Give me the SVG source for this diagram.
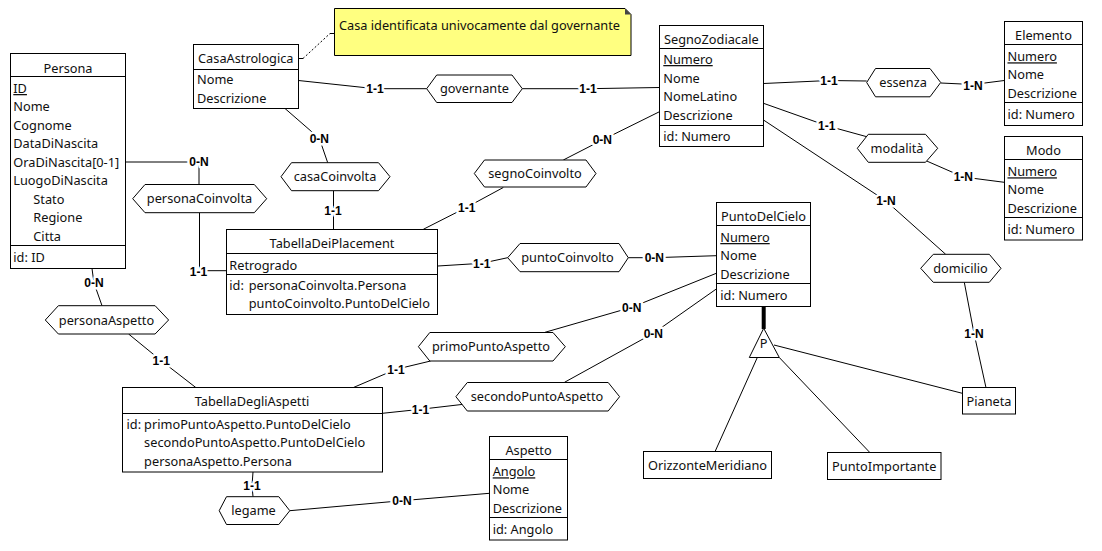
<svg xmlns="http://www.w3.org/2000/svg" width="1102" height="551" viewBox="0 0 1102 551">
<style>
.box{fill:#fff;stroke:#000;stroke-width:1}
.div{stroke:#000;stroke-width:1}
.hex{fill:#fff;stroke:#000;stroke-width:1}
.t{font-family:"Noto Sans","Open Sans",sans-serif;font-size:12.75px;fill:#101010}
.c{text-anchor:middle}
.u{text-decoration:underline}
.con{fill:none;stroke:#000;stroke-width:1}
.lbl{font-family:"Liberation Sans",Arial,sans-serif;font-size:12px;font-weight:bold;fill:#000;text-anchor:middle;stroke:#fff;stroke-width:5px;paint-order:stroke;stroke-linejoin:round}
</style>
<rect width="1102" height="551" fill="#fff"/>

<g id="connectors">
  <polyline class="con" points="298.5,80.5 375,88.7 426.7,88.7"/>
  <polyline class="con" points="522.3,88.7 588,88.7 659.5,87.5"/>
  <polyline class="con" points="298.5,58.5 303,58.5"/>
  <polyline class="con" points="303,58.5 330,33.5" stroke-dasharray="2,2"/>
  <polyline class="con" points="330,33.5 334.5,33.5"/>
  <polyline class="con" points="763.5,83.5 829,80.5 866.7,81"/>
  <polyline class="con" points="940.7,83 973,84.5 1004.3,80.5"/>
  <polyline class="con" points="763.5,103.3 826.7,125.7 866.7,136.7"/>
  <polyline class="con" points="926.7,161 963.3,177 1004.3,182.3"/>
  <polyline class="con" points="763.5,120 886,201 945.7,254.3"/>
  <polyline class="con" points="964.3,282.3 974,333.3 986,387.7"/>
  <polyline class="con" points="285,108.5 319.3,138.3 327.7,162.7"/>
  <polyline class="con" points="333.5,190.7 333.5,210.7 333.5,229.3"/>
  <polyline class="con" points="659.5,111.7 602.3,140 563.3,160"/>
  <polyline class="con" points="503.3,187.5 466.7,207.3 423.3,229.3"/>
  <polyline class="con" points="125.5,162 199,162 199,184.3"/>
  <polyline class="con" points="199.5,212.7 199.5,270.7 226.3,270.7"/>
  <polyline class="con" points="437.7,266 481.7,263.3 507.7,257.7"/>
  <polyline class="con" points="628.3,257.7 654.3,257.7 716.3,255.7"/>
  <polyline class="con" points="92,268.5 93.9,282.7 102,305.7"/>
  <polyline class="con" points="128.6,334 161.2,360.7 196,387.7"/>
  <polyline class="con" points="353,387.7 396,369.3 430.6,361"/>
  <polyline class="con" points="545,332.3 631.7,307.3 716.3,273.3"/>
  <polyline class="con" points="382.4,413.3 420.4,409.3 463.3,404.3"/>
  <polyline class="con" points="564.5,382.3 653.3,333.3 716.3,289"/>
  <polyline class="con" points="253,472 252,485.7 253,496.7"/>
  <polyline class="con" points="289.8,510.7 402,500.7 489.4,493.3"/>
  <line x1="763.7" y1="306.3" x2="763.7" y2="329" stroke="#000" stroke-width="4"/>
  <line class="con" x1="774" y1="345" x2="962.3" y2="393.3"/>
  <line class="con" x1="779.3" y1="357.5" x2="870" y2="452.7"/>
  <line class="con" x1="757.3" y1="357.5" x2="715" y2="451.7"/>
  <polygon points="763.7,328.3 749.3,357.5 779.3,357.5" fill="#fff" stroke="#000" stroke-width="1"/>
  <text class="t c" x="763.7" y="348">P</text>
  <text class="lbl" x="375" y="93">1-1</text>
  <text class="lbl" x="588" y="93">1-1</text>
  <text class="lbl" x="829" y="84.8">1-1</text>
  <text class="lbl" x="973" y="90.3">1-N</text>
  <text class="lbl" x="826.7" y="130">1-1</text>
  <text class="lbl" x="963.3" y="181.3">1-N</text>
  <text class="lbl" x="886" y="205.3">1-N</text>
  <text class="lbl" x="974" y="337.6">1-N</text>
  <text class="lbl" x="319.3" y="142.6">0-N</text>
  <text class="lbl" x="333" y="215">1-1</text>
  <text class="lbl" x="602.3" y="144.3">0-N</text>
  <text class="lbl" x="466.7" y="211.6">1-1</text>
  <text class="lbl" x="199" y="166.3">0-N</text>
  <text class="lbl" x="198.5" y="275.8">1-1</text>
  <text class="lbl" x="481.7" y="268.3">1-1</text>
  <text class="lbl" x="654.3" y="262">0-N</text>
  <text class="lbl" x="93.9" y="287">0-N</text>
  <text class="lbl" x="161.2" y="365">1-1</text>
  <text class="lbl" x="396" y="373.6">1-1</text>
  <text class="lbl" x="631.7" y="311.6">0-N</text>
  <text class="lbl" x="420.4" y="413.6">1-1</text>
  <text class="lbl" x="653.3" y="337.6">0-N</text>
  <text class="lbl" x="252" y="490">1-1</text>
  <text class="lbl" x="402" y="505">0-N</text>
</g>

<g id="note">
  <path d="M334.5,8.5 H625 L631,14.5 V55.5 H334.5 Z" fill="#ffff80" stroke="#000" stroke-width="1"/>
  <polygon points="625,8.5 631,14.5 625,14.5" fill="#444"/>
  <text class="t" x="339" y="30">Casa identificata univocamente dal governante</text>
</g>

<g id="Persona">
  <rect class="box" x="10.5" y="53.5" width="115" height="215"/>
  <line class="div" x1="10.5" y1="76.5" x2="125.5" y2="76.5"/>
  <line class="div" x1="10.5" y1="245.5" x2="125.5" y2="245.5"/>
  <text class="t c" x="68" y="72.5">Persona</text>
  <text class="t u" x="13.3" y="93">ID</text>
  <text class="t" x="13.3" y="111.3">Nome</text>
  <text class="t" x="13.3" y="130">Cognome</text>
  <text class="t" x="13.3" y="148.3">DataDiNascita</text>
  <text class="t" x="13.3" y="167">OraDiNascita[0-1]</text>
  <text class="t" x="13.3" y="185.3">LuogoDiNascita</text>
  <text class="t" x="33.3" y="204">Stato</text>
  <text class="t" x="33.3" y="222.3">Regione</text>
  <text class="t" x="33.3" y="241">Citta</text>
  <text class="t" x="13.3" y="262">id: ID</text>
</g>

<g id="CasaAstrologica">
  <rect class="box" x="193.5" y="44.5" width="105" height="64"/>
  <line class="div" x1="193.5" y1="69.5" x2="298.5" y2="69.5"/>
  <text class="t c" x="245.8" y="63.2">CasaAstrologica</text>
  <text class="t" x="197" y="84">Nome</text>
  <text class="t" x="197" y="103">Descrizione</text>
</g>

<g id="SegnoZodiacale">
  <rect class="box" x="659.5" y="25.5" width="104" height="121"/>
  <line class="div" x1="659.5" y1="48.5" x2="763.5" y2="48.5"/>
  <line class="div" x1="659.5" y1="125.5" x2="763.5" y2="125.5"/>
  <text class="t c" x="711.3" y="44">SegnoZodiacale</text>
  <text class="t u" x="663.3" y="64">Numero</text>
  <text class="t" x="663.3" y="83">Nome</text>
  <text class="t" x="663.3" y="101.3">NomeLatino</text>
  <text class="t" x="663.3" y="120">Descrizione</text>
  <text class="t" x="663.3" y="141.3">id: Numero</text>
</g>

<g id="Elemento">
  <rect class="box" x="1004.5" y="21.5" width="78" height="104"/>
  <line class="div" x1="1004.5" y1="44.5" x2="1082.5" y2="44.5"/>
  <line class="div" x1="1004.5" y1="102.5" x2="1082.5" y2="102.5"/>
  <text class="t c" x="1043.5" y="39.5">Elemento</text>
  <text class="t u" x="1007.5" y="61.3">Numero</text>
  <text class="t" x="1007.5" y="79.3">Nome</text>
  <text class="t" x="1007.5" y="98.3">Descrizione</text>
  <text class="t" x="1007.5" y="119">id: Numero</text>
</g>

<g id="Modo">
  <rect class="box" x="1004.5" y="136.5" width="78" height="103.5"/>
  <line class="div" x1="1004.5" y1="159.5" x2="1082.5" y2="159.5"/>
  <line class="div" x1="1004.5" y1="217.5" x2="1082.5" y2="217.5"/>
  <text class="t c" x="1043.5" y="155">Modo</text>
  <text class="t u" x="1007.5" y="176.3">Numero</text>
  <text class="t" x="1007.5" y="194">Nome</text>
  <text class="t" x="1007.5" y="213">Descrizione</text>
  <text class="t" x="1007.5" y="234">id: Numero</text>
</g>

<g id="PuntoDelCielo">
  <rect class="box" x="716.5" y="202.5" width="94" height="104"/>
  <line class="div" x1="716.5" y1="225.5" x2="810.5" y2="225.5"/>
  <line class="div" x1="716.5" y1="283.5" x2="810.5" y2="283.5"/>
  <text class="t c" x="763.5" y="221">PuntoDelCielo</text>
  <text class="t u" x="720.3" y="242">Numero</text>
  <text class="t" x="720.3" y="260.3">Nome</text>
  <text class="t" x="720.3" y="279">Descrizione</text>
  <text class="t" x="720.3" y="300">id: Numero</text>
</g>

<g id="TabellaDeiPlacement">
  <rect class="box" x="226.5" y="229.5" width="211" height="85"/>
  <line class="div" x1="226.5" y1="253.5" x2="437.5" y2="253.5"/>
  <line class="div" x1="226.5" y1="274.5" x2="437.5" y2="274.5"/>
  <text class="t c" x="332" y="248">TabellaDeiPlacement</text>
  <text class="t" x="229.3" y="269.6">Retrogrado</text>
  <text class="t" x="229.3" y="290.3">id:</text>
  <text class="t" x="248.7" y="290.3">personaCoinvolta.Persona</text>
  <text class="t" x="248.7" y="308.3">puntoCoinvolto.PuntoDelCielo</text>
</g>

<g id="TabellaDegliAspetti">
  <rect class="box" x="122.5" y="387.5" width="260" height="84.5"/>
  <line class="div" x1="122.5" y1="413.5" x2="382.5" y2="413.5"/>
  <text class="t c" x="252" y="406.3">TabellaDegliAspetti</text>
  <text class="t" x="126.5" y="429">id:</text>
  <text class="t" x="144.1" y="429">primoPuntoAspetto.PuntoDelCielo</text>
  <text class="t" x="144.1" y="447.3">secondoPuntoAspetto.PuntoDelCielo</text>
  <text class="t" x="144.1" y="466.3">personaAspetto.Persona</text>
</g>

<g id="Aspetto">
  <rect class="box" x="489.5" y="436.5" width="78" height="103.5"/>
  <line class="div" x1="489.5" y1="459.5" x2="567.5" y2="459.5"/>
  <line class="div" x1="489.5" y1="517.5" x2="567.5" y2="517.5"/>
  <text class="t c" x="528.5" y="455.3">Aspetto</text>
  <text class="t u" x="492.7" y="476.3">Angolo</text>
  <text class="t" x="492.7" y="494">Nome</text>
  <text class="t" x="492.7" y="513">Descrizione</text>
  <text class="t" x="492.7" y="534">id: Angolo</text>
</g>

<g id="Pianeta">
  <rect class="box" x="962.5" y="387.5" width="53" height="26.5"/>
  <text class="t c" x="989" y="406">Pianeta</text>
</g>

<g id="OrizzonteMeridiano">
  <rect class="box" x="643.5" y="451.5" width="128" height="27"/>
  <text class="t c" x="707.5" y="470">OrizzonteMeridiano</text>
</g>

<g id="PuntoImportante">
  <rect class="box" x="827.5" y="452.5" width="113.5" height="27"/>
  <text class="t c" x="884.2" y="471">PuntoImportante</text>
</g>

<g id="governante">
  <path class="hex" d="M426.7,88.7 L436.7,75 H512 L522.3,88.7 L512,102.5 H436.7 Z"/>
  <text class="t c" x="474.5" y="93.2">governante</text>
</g>
<g id="essenza">
  <path class="hex" d="M866.7,82.5 L875.5,68.5 H930 L940.7,82.5 L930,96.8 H875.5 Z"/>
  <text class="t c" x="903" y="87">essenza</text>
</g>
<g id="modalita">
  <path class="hex" d="M857.3,148.3 L868.3,134.3 H925.5 L937.7,148.3 L925.5,162.3 H868.3 Z"/>
  <text class="t c" x="897" y="152.8">modalità</text>
</g>
<g id="casaCoinvolta">
  <path class="hex" d="M281,176.7 L291.5,162.7 H378.5 L390,176.7 L378.5,190.7 H291.5 Z"/>
  <text class="t c" x="335" y="181.2">casaCoinvolta</text>
</g>
<g id="segnoCoinvolto">
  <path class="hex" d="M474.3,173.5 L484.5,160 H586 L596,173.5 L586,187 H484.5 Z"/>
  <text class="t c" x="535" y="178">segnoCoinvolto</text>
</g>
<g id="personaCoinvolta">
  <path class="hex" d="M132.7,198.7 L145,184.5 H254.3 L266.7,198.7 L254.3,212.7 H145 Z"/>
  <text class="t c" x="199.5" y="203.2">personaCoinvolta</text>
</g>
<g id="puntoCoinvolto">
  <path class="hex" d="M507.7,257.7 L520,243.5 H619 L628.3,257.7 L619,271.7 H520 Z"/>
  <text class="t c" x="567.5" y="262.2">puntoCoinvolto</text>
</g>
<g id="domicilio">
  <path class="hex" d="M920.7,268.3 L933.3,254.3 H989.3 L1001,268.3 L989.3,282.3 H933.3 Z"/>
  <text class="t c" x="960.5" y="272.8">domicilio</text>
</g>
<g id="personaAspetto">
  <path class="hex" d="M45.3,320 L58.4,305.7 H155.1 L168.6,320 L155.1,334 H58.4 Z"/>
  <text class="t c" x="106.5" y="324.5">personaAspetto</text>
</g>
<g id="primoPuntoAspetto">
  <path class="hex" d="M418.4,346.7 L429.8,332.5 H553 L565.3,346.7 L553,361 H429.8 Z"/>
  <text class="t c" x="491" y="351.2">primoPuntoAspetto</text>
</g>
<g id="secondoPuntoAspetto">
  <path class="hex" d="M455.9,396.7 L467.3,382.5 H608.2 L619.6,396.7 L608.2,411 H467.3 Z"/>
  <text class="t c" x="537" y="401.2">secondoPuntoAspetto</text>
</g>
<g id="legame">
  <path class="hex" d="M219.2,510.7 L226.5,496.7 H278.8 L289.8,510.7 L278.8,524.5 H226.5 Z"/>
  <text class="t c" x="253.5" y="515.2">legame</text>
</g>
</svg>
